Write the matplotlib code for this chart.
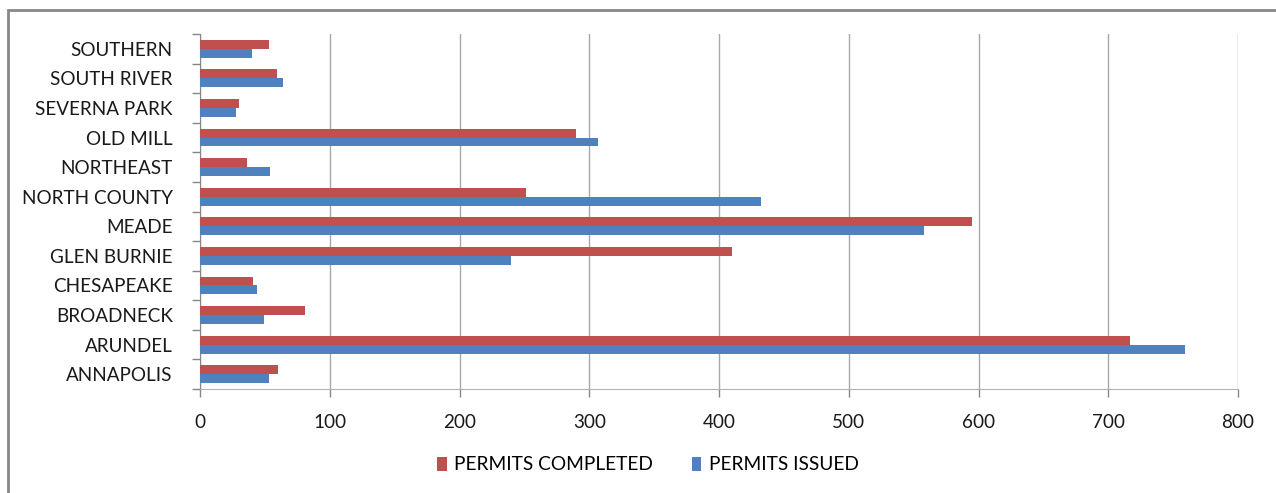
import numpy as np
import matplotlib.pyplot as plt
from matplotlib.patches import Rectangle

plt.rcParams['font.family'] = ['Lato', 'DejaVu Sans']

areas = ['ANNAPOLIS', 'ARUNDEL', 'BROADNECK', 'CHESAPEAKE', 'GLEN BURNIE', 'MEADE',
         'NORTH COUNTY', 'NORTHEAST', 'OLD MILL', 'SEVERNA PARK', 'SOUTH RIVER', 'SOUTHERN']
completed = [60, 717, 81, 41, 410, 595, 251, 36, 290, 30, 59, 53]
issued = [53, 759, 49, 44, 240, 558, 432, 54, 307, 28, 64, 40]

red = '#c0504d'
blue = '#4f81bd'

fig = plt.figure(figsize=(12.76, 4.93), dpi=100)
# chart area frame
fig.patches.append(Rectangle((8/1276, -0.1), 1.2, 1 - 10/493 + 0.1, transform=fig.transFigure,
                             fill=False, edgecolor='#878787', linewidth=2))
ax = fig.add_axes([200/1276, 1 - 389/493, 1038/1276, (389 - 34)/493])

y = np.arange(len(areas))
h = 0.3
ax.barh(y - h/2, issued, height=h, color=blue, label='PERMITS ISSUED', zorder=3)
ax.barh(y + h/2, completed, height=h, color=red, label='PERMITS COMPLETED', zorder=3)

ax.set_xlim(0, 800)
ax.set_ylim(-0.5, len(areas) - 0.5)
ax.set_xticks(np.arange(0, 801, 100))
ax.set_yticks(y)
ax.set_yticklabels(areas)
ax.set_yticks(np.arange(-0.5, len(areas), 1), minor=True)
ax.tick_params(axis='y', which='major', length=0, pad=19.5, labelsize=13.6, labelcolor='#1a1a1a')
ax.tick_params(axis='y', which='minor', length=6, color='#868686', width=1)
ax.tick_params(axis='x', length=6, color='#868686', width=1, pad=12, labelsize=13.6, labelcolor='#1a1a1a')
ax.grid(axis='x', color='#a8a8a8', linewidth=1.0, zorder=0)

for s in ['top', 'right']:
    ax.spines[s].set_visible(False)
ax.spines['left'].set_color('#868686')
ax.spines['bottom'].set_color('#b3b3b3')

handles, labels = ax.get_legend_handles_labels()
fig.legend(handles[::-1], labels[::-1], loc='center', bbox_to_anchor=(648/1276, 1 - 465/493),
           ncol=2, frameon=False, fontsize=13.8, handlelength=0.5, handleheight=0.8,
           handletextpad=0.4, columnspacing=2.0)

fig.savefig('out.png', dpi=100)
